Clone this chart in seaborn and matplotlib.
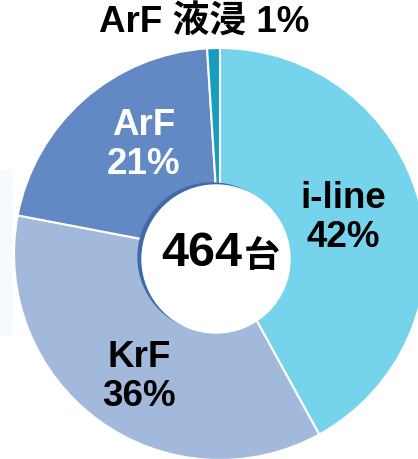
import matplotlib
matplotlib.use('Agg')
import matplotlib.pyplot as plt
import seaborn as sns

# Exposure tool mix (units share, %)
labels = ['i-line', 'KrF', 'ArF', 'ArF 液浸']
shares = [42, 36, 21, 1]
colors = ['#76D3EC', '#A3B9DB', '#6389C4', '#169DC0']
total_units = '464'
unit_label = '台'


def main():
    sns.set_theme(style='white')
    plt.rcParams['font.family'] = ['Liberation Sans', 'Noto Sans CJK JP']
    plt.rcParams['font.weight'] = 'bold'

    W, H = 418, 459
    fig = plt.figure(figsize=(W / 100, H / 100), dpi=100)
    ax = fig.add_axes([0, 0, 1, 1])

    # faint panel edge on the left
    ax.add_patch(plt.Rectangle((0, H - 335), 11, 165, color='#f6f9fe', zorder=0))

    cx, cy, r = 220, H - 254, 206
    ax.pie(shares, colors=colors, startangle=90, counterclock=False,
           center=(cx, cy), radius=r, frame=True,
           wedgeprops=dict(edgecolor='white', linewidth=1.5))
    ax.set_xlim(0, W)
    ax.set_ylim(0, H)
    ax.set_aspect('equal')
    ax.axis('off')

    # hole with a soft shadow
    hx, hy, hr = 216, H - 259, 74
    ax.add_patch(plt.Circle((hx - 4, hy + 2), hr, color='#3f69a8', zorder=3))
    ax.add_patch(plt.Circle((hx, hy), hr, color='white', zorder=4))

    ax.text(202, H - 254, total_units, ha='center', va='center', fontsize=35,
            fontweight='bold', color='black', zorder=5)
    ax.text(262, H - 258, unit_label, ha='center', va='center', fontsize=26,
            fontweight='bold', color='black', zorder=5)

    # slice labels
    kw = dict(ha='center', va='center', fontsize=26.5, fontweight='bold',
              linespacing=1.12, zorder=5)
    ax.text(343, H - 218, f'{labels[0]}\n{shares[0]}%', color='black', **kw)
    ax.text(139, H - 377, f'{labels[1]}\n{shares[1]}%', color='black', **kw)
    ax.text(144, H - 145, f'{labels[2]}\n{shares[2]}%', color='white', **kw)
    ax.text(204, H - 22, f'{labels[3]} {shares[3]}%', color='black', **kw)

    fig.savefig('out.png', dpi=100)
    plt.close(fig)


if __name__ == '__main__':
    main()
